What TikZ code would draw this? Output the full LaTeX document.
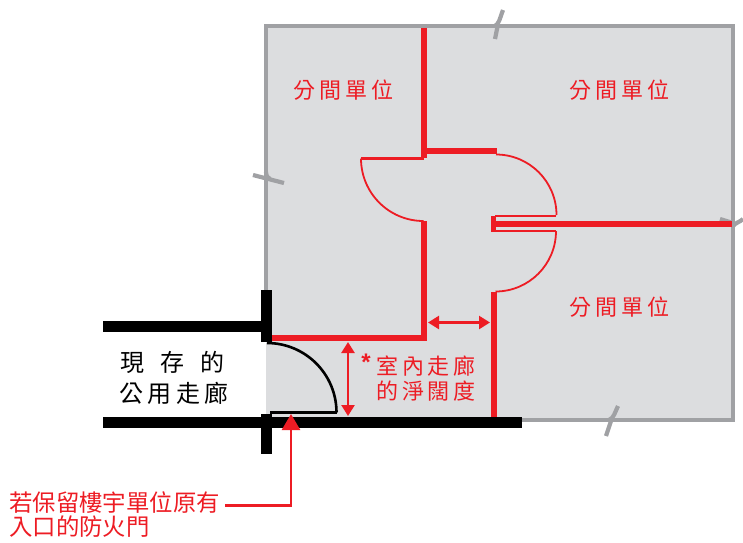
\documentclass[tikz,border=0pt]{standalone}
\usepackage{fontspec}
\usetikzlibrary{arrows.meta}
\newfontfamily\cjkred[LetterSpace=17]{Noto Sans CJK TC}
\newfontfamily\cjkblack[LetterSpace=18]{Noto Sans CJK TC}
\newfontfamily\cjkplain{Noto Sans CJK TC}
\newfontfamily\starfont{Liberation Sans}
\definecolor{rd}{HTML}{ED1C24}
\definecolor{roomgray}{HTML}{DCDDDF}
\definecolor{edgegray}{HTML}{A0A1A4}
\tikzset{
  border/.style={draw=edgegray,line width=4.2pt,line join=miter},
  breakmark/.style={draw=edgegray,line width=4.2pt,line join=round},
  redwall/.style={draw=rd,line width=6pt},
  redthin/.style={draw=rd,line width=1.8pt},
  redleaf/.style={draw=rd,line width=2.8pt},
  blackwall/.style={draw=black,line width=10.5pt},
  door/.style={draw=black,line width=2.6pt},
  dim/.style={draw=rd,line width=2.4pt,{Triangle[length=11pt,width=13pt]}-{Triangle[length=11pt,width=13pt]}},
  lead/.style={draw=rd,line width=2.8pt,-{Triangle[length=16pt,width=18pt]}},
  redlabel/.style={text=rd,font=\cjkred\fontsize{22}{25}\selectfont,inner sep=0pt,anchor=center},
  notelabel/.style={text=rd,font=\cjkplain\fontsize{23.4}{24}\selectfont,inner sep=0pt,anchor=west},
  blacklabel/.style={text=black,font=\cjkblack\fontsize{24}{26}\selectfont,inner sep=0pt,anchor=center}
}
\begin{document}
\begin{tikzpicture}[x=1pt,y=-1pt]
\useasboundingbox (0,0) rectangle (743,542);
% floor
\fill[roomgray] (266,26) rectangle (733,420);
% outer partition line
\draw[border] (266,322) -- (266,26) -- (733,26) -- (733,420) -- (520,420);
% break marks
\draw[breakmark] (503,10) .. controls (500,18) and (499,24) .. (495,26);
\draw[breakmark] (498,24) -- (495,39);
\draw[breakmark] (253,175) -- (284,183);
\draw[breakmark] (266,172) .. controls (266,176) and (268,178) .. (270,179);
\draw[breakmark] (720,219) -- (733,223);
\draw[breakmark] (733,226) .. controls (735,223) and (740,222) .. (743,219);
\draw[breakmark] (618,406) .. controls (615,412) and (614,418) .. (609,420);
\draw[breakmark] (612,418) -- (606,436);
% red walls
\draw[redwall] (424,28) -- (424,158);
\draw[redwall] (424,151) -- (497,151);
\draw[redwall] (272,338) -- (424,338) -- (424,221);
\draw[redwall] (494,417) -- (494,292);
\draw[redwall] (491,223.5) -- (732,223.5);
\fill[rd] (490.5,216) rectangle (496,231.5);
% red doors
\draw[redleaf] (424,158.5) -- (361,158.5);
\draw[redthin] (361,158.5) arc[start angle=180,end angle=90,radius=62.5];
\draw[redleaf] (495,216) -- (556,216);
\draw[redthin] (496,154.5) arc[start angle=-90,end angle=0,radius=60.5];
\draw[redleaf] (495,231) -- (556,231);
\draw[redthin] (556,231) arc[start angle=0,end angle=90,radius=60.5];
% black walls
\draw[blackwall] (103,326.5) -- (266,326.5);
\draw[blackwall] (103,422.5) -- (522,422.5);
\draw[blackwall] (266.7,290) -- (266.7,342);
\draw[blackwall] (266.7,414) -- (266.7,454);
% entrance door
\draw[door] (270,412.5) -- (337.3,412.5);
\draw[door] (267,343) arc[start angle=-90,end angle=0,radius=69.5];
% dimension arrows
\coordinate (h1) at (428,322.5);
\coordinate (h2) at (490,322.5);
\coordinate (v1) at (348,342);
\coordinate (v2) at (348,416);
\draw[dim] (h1) -- (h2);
\draw[dim] (v1) -- (v2);
% labels
\node[redlabel] (room1) at (343.5,90) {分間單位};
\node[redlabel] (room2) at (619.5,90) {分間單位};
\node[redlabel] (room3) at (619.5,307) {分間單位};
\node[redlabel] (clear1) at (426,366) {室內走廊};
\node[redlabel] (clear2) at (426,391) {的淨闊度};
\node[text=rd,inner sep=0pt,font=\starfont\bfseries\fontsize{24}{24}\selectfont] (star) at (366,362) {*};
\node[blacklabel] (corr1) at (172.5,362) {現\hspace{16pt}存\hspace{16pt}的};
\node[blacklabel] (corr2) at (174,393) {公用走廊};
\node[notelabel] (note1) at (9,503) {若保留樓宇單位原有};
\node[notelabel] (note2) at (9,527) {入口的防火門};
% leader
\coordinate (leadstart) at (225,505.5);
\coordinate (leadend) at (291,414);
\draw[lead] (leadstart) -| (leadend);
\end{tikzpicture}
\end{document}
